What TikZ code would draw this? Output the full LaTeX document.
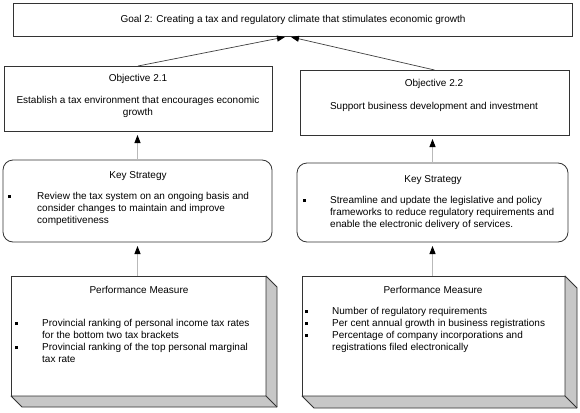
\documentclass[tikz,border=0pt]{standalone}
\usepackage{fontspec}
\setmainfont{Liberation Sans}
\usetikzlibrary{arrows.meta}
\newcommand{\sqbul}{\rule[2pt]{3.2pt}{3.2pt}}
\begin{document}
\begin{tikzpicture}[x=1pt,y=-1pt,
  box/.style={draw=black!80,line width=0.8pt,inner sep=0pt,outer sep=0pt,anchor=north west,fill=white},
  txt/.style={inner sep=0pt,font=\fontsize{10}{11.8}\selectfont},
  para/.style={txt,align=left,anchor=north west},
  cpara/.style={txt,align=center,anchor=north},
  bul/.style={txt,anchor=base west},
  conn/.style={draw=gray!55,line width=1pt,-{Triangle[length=8pt,width=6pt,color=black]},shorten >=4pt},
  diag/.style={draw=black!75,line width=0.7pt,-{Triangle[length=8pt,width=6pt,color=black]}},
  depth/.style={fill=black!22,draw=black!80,line width=0.8pt,line join=round}]
\fill[white] (0,0) rectangle (580,412);
\useasboundingbox (0,0) rectangle (580,412);
% Goal
\node[box,minimum width=559pt,minimum height=33pt] (goal) at (13,3) {};
\node[txt,anchor=base] (goaltxt) at (293,23) {Goal 2: Creating a tax and regulatory climate that stimulates economic growth};
% Objectives
\node[box,minimum width=268pt,minimum height=65pt] (obj1) at (4,66) {};
\node[txt,anchor=base] (obj1t) at (138,81) {Objective 2.1};
\node[cpara] (obj1d) at (138,96) {Establish a tax environment that encourages economic\\growth};
\node[box,minimum width=269pt,minimum height=65pt] (obj2) at (300,70) {};
\node[txt,anchor=base] (obj2t) at (434,86) {Objective 2.2};
\node[txt,anchor=base] (obj2d) at (434,109) {Support business development and investment};
% Key strategies
\node[box,rounded corners=10pt,minimum width=269pt,minimum height=82pt] (ks1) at (3,160) {};
\node[txt,anchor=base] (ks1t) at (138,178) {Key Strategy};
\node[bul] (ks1b) at (8,200) {\sqbul};
\node[para] (ks1d) at (37,192) {Review the tax system on an ongoing basis and\\consider changes to maintain and improve\\competitiveness};
\node[box,rounded corners=10pt,minimum width=271pt,minimum height=79pt] (ks2) at (297,163) {};
\node[txt,anchor=base] (ks2t) at (433,182) {Key Strategy};
\node[bul] (ks2b) at (303,204) {\sqbul};
\node[para] (ks2d) at (330,196) {Streamline and update the legislative and policy\\frameworks to reduce regulatory requirements and\\enable the electronic delivery of services.};
% Performance measures
\node[box,minimum width=255pt,minimum height=120pt] (pm1) at (11,276) {};
\filldraw[depth] (pm1.north east) -- ++(11,11) -- ++(0,120) -- ++(-255,0) -- (pm1.south west) -- (pm1.south east) -- cycle;
\draw[black!80,line width=0.8pt] (pm1.south east) -- ++(11,11);
\node[txt,anchor=base] (pm1t) at (139,293) {Performance Measure};
\node[bul] (pm1b1) at (15,327) {\sqbul};
\node[para] (pm1d1) at (42,319) {Provincial ranking of personal income tax rates\\for the bottom two tax brackets};
\node[bul] (pm1b2) at (15,351) {\sqbul};
\node[para] (pm1d2) at (42,343) {Provincial ranking of the top personal marginal\\tax rate};
\node[box,minimum width=263pt,minimum height=120pt] (pm2) at (302,276) {};
\filldraw[depth] (pm2.north east) -- ++(12,12) -- ++(0,120) -- ++(-263,0) -- (pm2.south west) -- (pm2.south east) -- cycle;
\draw[black!80,line width=0.8pt] (pm2.south east) -- ++(12,12);
\node[txt,anchor=base] (pm2t) at (433,293) {Performance Measure};
\node[bul] (pm2b1) at (305,315) {\sqbul};
\node[para] (pm2d1) at (332,307) {Number of regulatory requirements};
\node[bul] (pm2b2) at (305,327) {\sqbul};
\node[para] (pm2d2) at (332,319) {Per cent annual growth in business registrations};
\node[bul] (pm2b3) at (305,339) {\sqbul};
\node[para] (pm2d3) at (332,331) {Percentage of company incorporations and\\registrations filed electronically};
% Connectors
\coordinate (g1) at (285,37);
\coordinate (g2) at (291,37);
\draw[diag] (obj1.north) -- (g1);
\draw[diag] (obj2.north) -- (g2);
\draw[conn] (ks1.north) -- (ks1.north |- obj1.south);
\draw[conn] (ks2.north) -- (ks2.north |- obj2.south);
\draw[conn] (pm1.north -| ks1.south) -- (ks1.south);
\draw[conn] (pm2.north -| ks2.south) -- (ks2.south);
\end{tikzpicture}
\end{document}
